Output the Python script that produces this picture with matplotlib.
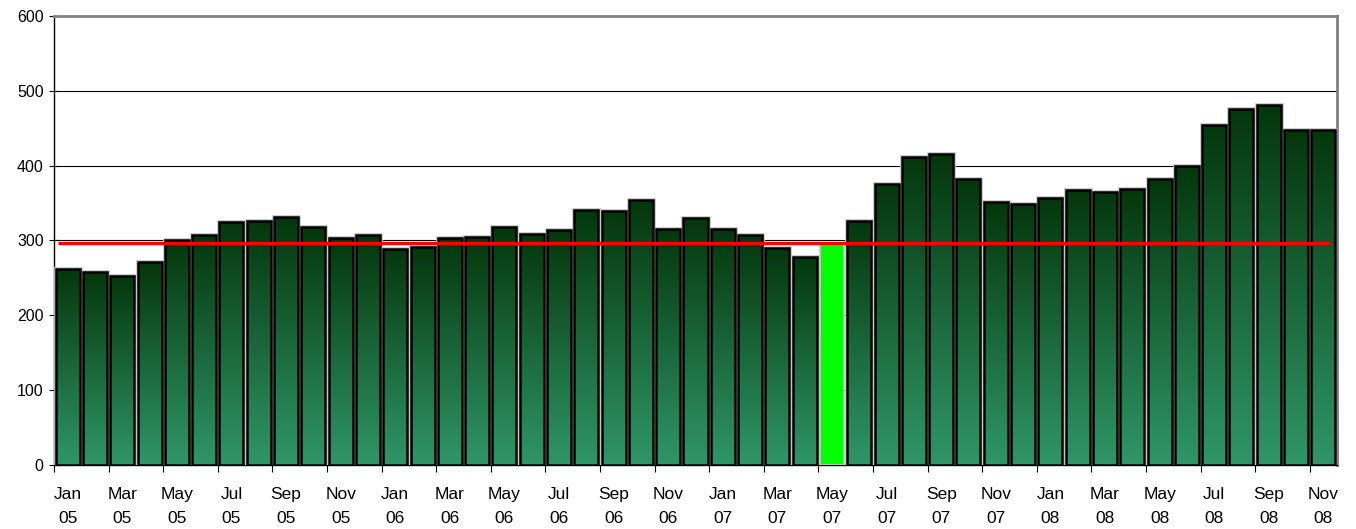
import matplotlib
matplotlib.use("Agg")
import matplotlib.pyplot as plt
import numpy as np
from matplotlib.colors import LinearSegmentedColormap
from matplotlib.patches import Rectangle

plt.rcParams['font.family'] = ['Liberation Sans', 'DejaVu Sans']

months = ["Jan", "Feb", "Mar", "Apr", "May", "Jun", "Jul", "Aug", "Sep", "Oct", "Nov", "Dec"]
years = ["05", "06", "07", "08"]
categories = [f"{m}\n{y}" for y in years for m in months][:47]

values = [262, 258, 252, 271, 301, 307, 325, 326, 331, 318, 304, 307,
          289, 291, 303, 305, 318, 309, 314, 341, 339, 354, 316, 330,
          315, 308, 290, 278, 296, 326, 376, 412, 415, 382, 351, 349,
          357, 367, 365, 369, 382, 400, 455, 476, 481, 447, 447]
highlight_index = 28  # May 07
reference_value = 297

fig = plt.figure(figsize=(13.56, 5.29), dpi=100)
ax = fig.add_axes([54/1356, 1-465/529, (1337-54)/1356, (465-16)/529])

cmap = LinearSegmentedColormap.from_list("g", ["#2f9667", "#04360b"])
grad = np.linspace(0, 1, 256).reshape(-1, 1)

w = 0.88
x = np.arange(len(values))
for i, v in enumerate(values):
    if i == highlight_index:
        ax.bar(i, v, width=w, color="#00ff00", edgecolor="#c8c8c8", linewidth=1.2, zorder=3)
        continue
    rect = Rectangle((i - w/2, 0), w, v, facecolor="none", edgecolor="black",
                     linewidth=1.8, zorder=4)
    ax.add_patch(rect)
    outer = Rectangle((i - w/2, 0), w, v, facecolor="none", edgecolor="#c8c8c8",
                      linewidth=3.4, zorder=2.9)
    ax.add_patch(outer)
    im = ax.imshow(grad, extent=[i - w/2, i + w/2, 0, v], origin="lower",
                   cmap=cmap, aspect="auto", zorder=3, interpolation="bilinear")
    clip = Rectangle((i - w/2, 0), w, v, transform=ax.transData)
    im.set_clip_path(clip)

ax.plot([-0.35, 46.25], [reference_value, reference_value], color="#ff0000",
        linewidth=2.4, zorder=5, solid_capstyle="butt")

ax.set_xlim(-0.5, len(values) - 0.5)
ax.set_ylim(0, 600)
ax.set_yticks(np.arange(0, 601, 100))
ax.yaxis.grid(True, color="black", linewidth=0.8)
ax.set_axisbelow(True)

ax.set_xticks(x[::2])
ax.set_xticklabels(categories[::2], fontsize=12.5, linespacing=1.75)
ax.set_xticks(np.arange(-0.5, len(values), 2), minor=True)
ax.tick_params(axis="x", which="major", length=0, pad=16)
ax.tick_params(axis="x", which="minor", length=5, width=0.8, direction="out")
ax.tick_params(axis="y", length=7, width=0.8, direction="inout", labelsize=11.5, pad=4)

for s in ["top", "right"]:
    ax.spines[s].set_color("#808080")
    ax.spines[s].set_linewidth(2)
ax.spines["left"].set_color("black")
ax.spines["bottom"].set_color("black")
ax.spines["left"].set_linewidth(1)
ax.spines["bottom"].set_linewidth(1)

fig.savefig("out.png", dpi=100)
